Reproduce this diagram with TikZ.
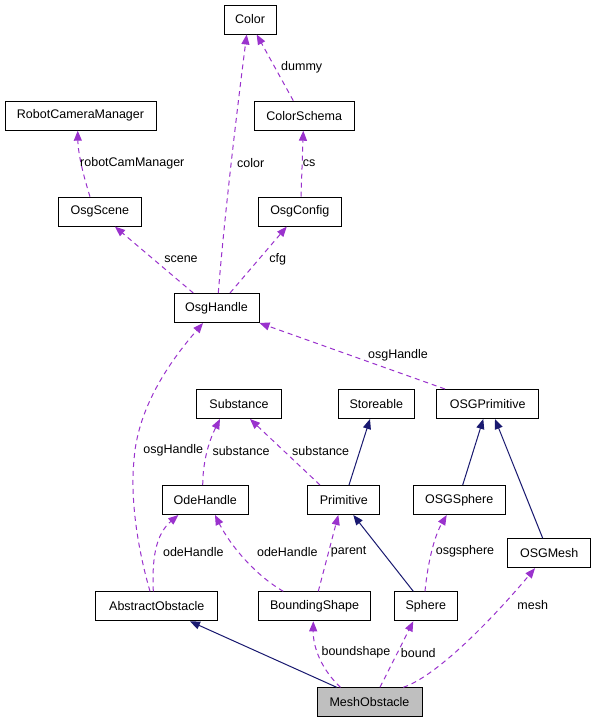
\documentclass[tikz,border=0pt]{standalone}
\usepackage{fontspec}
\setmainfont{Liberation Sans}
\usetikzlibrary{arrows.meta}
\definecolor{dpurple}{HTML}{9A32CD}
\definecolor{dnavy}{HTML}{191970}
\definecolor{dgray}{HTML}{BFBFBF}
\begin{document}
\begin{tikzpicture}[x=1pt,y=-1pt,
  cls/.style={draw=black, line width=1pt, minimum height=29pt, inner sep=0pt, fill=white, font=\fontsize{12.5}{14}\selectfont},
  usage/.style={draw=dpurple, line width=1pt, dash pattern=on 5pt off 4pt, -{Triangle[length=10pt,width=8pt,fill=dpurple]}},
  inherit/.style={draw=dnavy, line width=1pt, -{Triangle[length=10pt,width=8pt,fill=dnavy]}},
  lbl/.style={inner sep=0pt, font=\fontsize{12.5}{14}\selectfont, text=black}]
\path[use as bounding box, fill=white] (0,0) rectangle (596,723);

% classes
\node[cls, minimum width=52pt] (Color) at (250,19.5) {Color};
\node[cls, minimum width=151pt] (RCM) at (80.5,115.7) {RobotCameraManager};
\node[cls, minimum width=100pt] (CS) at (304.2,115.7) {ColorSchema};
\node[cls, minimum width=83pt] (OsgScene) at (99.8,211.7) {OsgScene};
\node[cls, minimum width=83pt] (OsgConfig) at (299.8,211.7) {OsgConfig};
\node[cls, minimum width=85pt] (OH) at (216.5,308) {OsgHandle};
\node[cls, minimum width=85pt] (Substance) at (239,404) {Substance};
\node[cls, minimum width=76pt] (Storeable) at (376.3,404) {Storeable};
\node[cls, minimum width=102pt] (OSGPrimitive) at (487.7,404) {OSGPrimitive};
\node[cls, minimum width=86pt] (OdeHandle) at (205.3,500) {OdeHandle};
\node[cls, minimum width=72pt] (Primitive) at (343.8,500) {Primitive};
\node[cls, minimum width=92pt] (OSGSphere) at (459.2,500) {OSGSphere};
\node[cls, minimum width=83pt] (OSGMesh) at (549.2,553.2) {OSGMesh};
\node[cls, minimum width=122pt] (AO) at (156.8,606.3) {AbstractObstacle};
\node[cls, minimum width=112pt] (BS) at (314.5,606.3) {BoundingShape};
\node[cls, minimum width=63pt] (Sphere) at (425.8,606.3) {Sphere};
\node[cls, minimum width=105pt, fill=dgray] (MO) at (369.5,702.3) {MeshObstacle};

% connectors
\draw[usage] ([xshift=1.8pt]OH.north) .. controls (224,220) and (237,110) .. ([xshift=-3.3pt]Color.south);
\draw[usage] ([xshift=-10.9pt]CS.north) -- ([xshift=6.7pt]Color.south);
\draw[usage] ([xshift=-9.8pt]OsgScene.north) .. controls (81,168) and (78,150) .. ([xshift=-2.8pt]RCM.south);
\draw[usage] ([xshift=1.2pt]OsgConfig.north) -- ([xshift=-0.9pt]CS.south);
\draw[usage] ([xshift=-23.2pt]OH.north) -- ([xshift=15.2pt]OsgScene.south);
\draw[usage] ([xshift=13.5pt]OH.north) -- ([xshift=-13.1pt]OsgConfig.south);
\draw[usage] ([xshift=-42.7pt]OSGPrimitive.north) -- (OH.south east);
\draw[usage] ([xshift=-6.8pt]AO.north) .. controls (138,550) and (130,500) .. (134,460) .. controls (138,400) and (180,350) .. ([xshift=-13.5pt]OH.south);
\draw[usage] ([xshift=-2.6pt]OdeHandle.north) .. controls (203,455) and (212,435) .. ([xshift=-19pt]Substance.south);
\draw[usage] ([xshift=-23.8pt]Primitive.north) -- ([xshift=11pt]Substance.south);
\draw[inherit] ([xshift=5.2pt]Primitive.north) -- ([xshift=-6.3pt]Storeable.south);
\draw[inherit] ([xshift=3.5pt]OSGSphere.north) -- ([xshift=-4.4pt]OSGPrimitive.south);
\draw[inherit] ([xshift=-6.5pt]OSGMesh.north) -- ([xshift=7.3pt]OSGPrimitive.south);
\draw[usage] ([xshift=-3.5pt]AO.north) .. controls (152,560) and (155,535) .. ([xshift=-27pt]OdeHandle.south);
\draw[usage] ([xshift=-31.2pt]BS.north) .. controls (255,575) and (230,545) .. ([xshift=9.7pt]OdeHandle.south);
\draw[usage] ([xshift=3.8pt]BS.north) -- ([xshift=-5.5pt]Primitive.south);
\draw[inherit] ([xshift=-12.5pt]Sphere.north) -- ([xshift=9.5pt]Primitive.south);
\draw[usage] ([xshift=-0.8pt]Sphere.north) .. controls (428,560) and (435,535) .. ([xshift=-12.5pt]OSGSphere.south);
\draw[usage] ([xshift=33.8pt]MO.north) .. controls (440,675) and (500,610) .. ([xshift=-14.2pt]OSGMesh.south);
\draw[inherit] ([xshift=-32.8pt]MO.north) -- ([xshift=33.2pt]AO.south);
\draw[usage] ([xshift=-29pt]MO.north) .. controls (322,670) and (313,648) .. ([xshift=-1.2pt]BS.south);
\draw[usage] ([xshift=10.5pt]MO.north) -- ([xshift=-12.5pt]Sphere.south);

% labels
\node[lbl] (lcolor) at (250.7,163.3) {color};
\node[lbl] (ldummy) at (301.7,67.3) {dummy};
\node[lbl, anchor=west] (lrcm) at (80,163.3) {robotCamManager};
\node[lbl] (lcs) at (309,163.3) {cs};
\node[lbl] (lscene) at (181,259) {scene};
\node[lbl] (lcfg) at (277.7,259) {cfg};
\node[lbl] (losgh1) at (398,355) {osgHandle};
\node[lbl] (losgh2) at (173.3,450.7) {osgHandle};
\node[lbl] (lsub1) at (241,450.7) {substance};
\node[lbl] (lsub2) at (320.7,450.7) {substance};
\node[lbl] (lode1) at (193.3,551.7) {odeHandle};
\node[lbl] (lode2) at (287.3,551.7) {odeHandle};
\node[lbl] (lparent) at (348.7,551.7) {parent};
\node[lbl] (losgs) at (465,551.7) {osgsphere};
\node[lbl] (lmesh) at (532.7,605) {mesh};
\node[lbl] (lbs) at (356,652.7) {boundshape};
\node[lbl] (lbound) at (418.3,652.7) {bound};
\end{tikzpicture}
\end{document}
